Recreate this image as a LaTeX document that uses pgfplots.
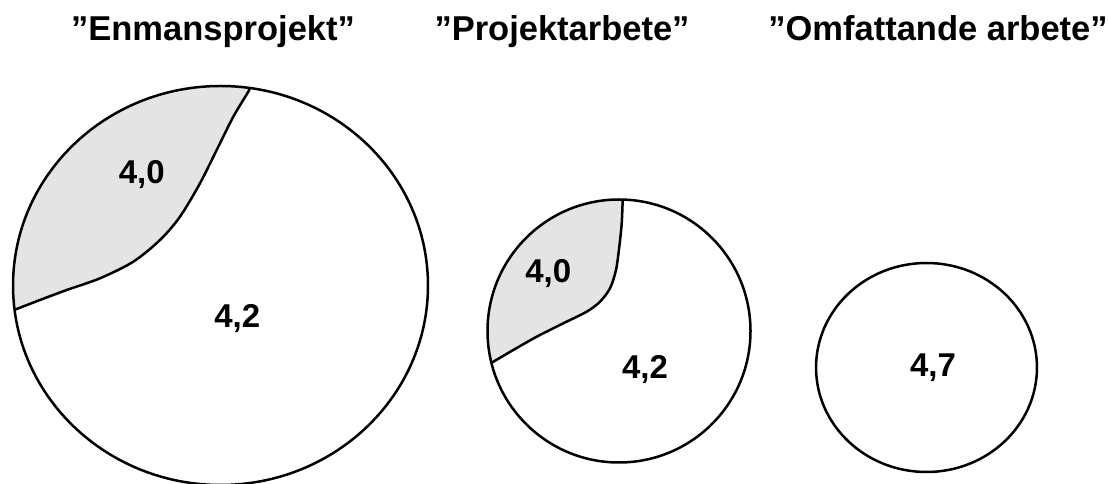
\documentclass[border=0pt]{standalone}
\usepackage{fontspec}
\setmainfont{Liberation Sans}
\usepackage{pgfplots}
\usepackage{pgfplotstable}
\pgfplotsset{compat=1.18}
\definecolor{lg}{RGB}{228,228,228}

% circles: centre (x,y), radii rx, ry
\pgfplotstableread{
x y rx ry sx
220.5 198.5 207.5 199.5 1.040
619 153 131.5 131.5 1.000
926.5 116.5 110.5 104.5 1.057
}\circles

% shaded region, circle 1 (boundary curve, then arc back)
\pgfplotstableread{
x y
14.6 174.2
40 184
66.7 194
100 205.7
133.3 222.3
160 244
180 267.3
200 300.7
216.7 334
233.3 367.3
248.3 392.3
249.4 396.1
220.5 398.0
184.5 395.0
149.5 386.0
116.8 371.3
87.1 351.3
61.6 326.7
40.8 298.3
25.5 266.7
16.2 233.1
13.0 198.5
14.6 174.2
}\shadeA

\pgfplotstableread{
x y
14.6 174.2
40 184
66.7 194
100 205.7
133.3 222.3
160 244
180 267.3
200 300.7
216.7 334
233.3 367.3
248.3 392.3
249.4 396.1
}\curveA

% shaded region, circle 2
\pgfplotstableread{
x y
492 121.5
513.3 134
536.7 147.3
563.3 160.7
586.7 172.3
600 182.3
610 195.7
616 214
619.3 237.3
621.7 260.7
622.7 284.4
596.2 282.5
574.0 276.6
553.3 266.9
534.5 253.7
518.3 237.5
505.1 218.8
495.4 198.0
489.5 175.8
487.5 153
489.5 130.2
492 121.5
}\shadeB

\pgfplotstableread{
x y
492 121.5
513.3 134
536.7 147.3
563.3 160.7
586.7 172.3
600 182.3
610 195.7
616 214
619.3 237.3
621.7 260.7
622.7 284.4
}\curveB

\begin{document}
\begin{tikzpicture}
\begin{axis}[
  width=1108pt, height=484pt, scale only axis,
  xmin=0, xmax=1108, ymin=0, ymax=484,
  hide axis, clip marker paths=true,
]
\addplot[draw=none, fill=lg] table {\shadeA};
\addplot[draw=none, fill=lg] table {\shadeB};
\addplot[black, line width=2.5pt, smooth, no marks] table {\curveA};
\addplot[black, line width=2.5pt, smooth, no marks] table {\curveB};
\addplot[scatter, only marks, mark=o,
  scatter/use mapped color={draw=black},
  mark options={line width=2.5pt},
  visualization depends on={\thisrow{ry} \as \rady},
  visualization depends on={\thisrow{sx} \as \sxx},
  scatter/@pre marker code/.append style={/tikz/mark size=\rady, /tikz/xscale=\sxx},
] table[x=x, y=y] {\circles};

\node[font=\bfseries\fontsize{33}{39}\selectfont] at (axis cs:141.7,309) {4,0};
\node[font=\bfseries\fontsize{33}{39}\selectfont] at (axis cs:237.3,165.7) {4,2};
\node[font=\bfseries\fontsize{33}{39}\selectfont] at (axis cs:548.3,210.7) {4,0};
\node[font=\bfseries\fontsize{33}{39}\selectfont] at (axis cs:645,114) {4,2};
\node[font=\bfseries\fontsize{33}{39}\selectfont] at (axis cs:933,116) {4,7};

\node[font=\bfseries\fontsize{34.5}{40}\selectfont, anchor=base] at (axis cs:213,443) {”Enmansprojekt”};
\node[font=\bfseries\fontsize{34.5}{40}\selectfont, anchor=base] at (axis cs:562,443) {”Projektarbete”};
\node[font=\bfseries\fontsize{34.5}{40}\selectfont, anchor=base] at (axis cs:938,443) {”Omfattande arbete”};
\end{axis}
\pgfresetboundingbox
\path (current axis.south west) rectangle (current axis.north east);
\end{tikzpicture}
\end{document}
